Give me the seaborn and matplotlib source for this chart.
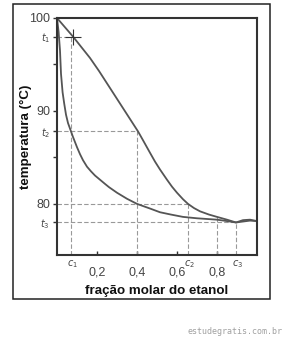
import matplotlib
matplotlib.use("Agg")
import matplotlib.pyplot as plt
import matplotlib.transforms as mtransforms
from matplotlib.patches import Rectangle
import seaborn as sns

# ethanol mole fraction vs boiling temperature (liquid / vapour curves)
liq_x = [0, 0.008, 0.015, 0.02, 0.028, 0.036, 0.045, 0.055, 0.07, 0.08, 0.09, 0.10, 0.115,
         0.13, 0.15, 0.17, 0.19, 0.215, 0.24, 0.26, 0.28, 0.30, 0.35, 0.40, 0.465, 0.515,
         0.57, 0.63, 0.70, 0.80, 0.85, 0.895, 0.93, 0.965, 1.0]
liq_y = [100, 98.5, 96.5, 94.0, 92.0, 90.8, 89.6, 88.7, 87.8, 87.2, 86.65, 86.1, 85.35,
         84.7, 84.0, 83.5, 83.05, 82.6, 82.15, 81.8, 81.5, 81.2, 80.55, 80.0, 79.5, 79.1,
         78.85, 78.6, 78.45, 78.3, 78.15, 78.0, 78.1, 78.2, 78.15]
vap_x = [0, 0.08, 0.165, 0.21, 0.30, 0.405, 0.43, 0.465, 0.49, 0.515, 0.55, 0.575, 0.60,
         0.63, 0.655, 0.685, 0.715, 0.76, 0.80, 0.85, 0.895, 0.93, 0.965, 1.0]
vap_y = [100, 98.0, 95.7, 94.3, 91.3, 87.8, 86.85, 85.5, 84.55, 83.7, 82.6, 81.85, 81.2,
         80.5, 80.0, 79.55, 79.2, 78.85, 78.6, 78.3, 78.0, 78.25, 78.3, 78.15]

t1, t2, t3 = 98.0, 87.8, 78.0
c1, c2, c3 = 0.07, 0.655, 0.895
cross_x = 0.08

h_levels = [t1, t2, 80, t3]
h_ends = [c1, 0.4, c2, c3]
v_pos = [c1, 0.4, c2, 0.8, c3]
v_tops = [t1, t2, 80, 78.6, t3]

y_ticks = [100, t1, 95, 90, t2, 85, 80, t3]
y_labels = ['100', '$t_1$', '', '90', '$t_2$', '', '80', '$t_3$']
x_ticks = [0.2, 0.4, 0.6, 0.8]
x_labels = ['0,2', '0,4', '0,6', '0,8']
c_pos = [c1, c2, c3]
c_labels = ['$c_1$', '$c_2$', '$c_3$']

sns.set_style("ticks")
plt.rcParams['font.family'] = ['Liberation Sans', 'DejaVu Sans']

fig = plt.figure(figsize=(2.84, 3.38), dpi=100)
ax = fig.add_axes([57/284, 83/338, 200/284, 237/338])

ymin = 74.5
guide = dict(color='#999999', lw=0.8, linestyle=(0, (4, 2)))
for lev, end in zip(h_levels, h_ends):
    ax.plot([0, end], [lev, lev], **guide)
for xp, top in zip(v_pos, v_tops):
    ax.plot([xp, xp], [ymin, top], **guide)

sns.lineplot(x=liq_x, y=liq_y, ax=ax, color='#555555', lw=1.3, sort=False)
sns.lineplot(x=vap_x, y=vap_y, ax=ax, color='#555555', lw=1.3, sort=False)
ax.plot([cross_x], [t1], marker='+', ms=11, mew=0.8, color='#333333')

ax.set_xlim(0, 1.0)
ax.set_ylim(ymin, 100)
ax.set_yticks(y_ticks)
ax.set_yticklabels(y_labels)
ax.set_xticks(x_ticks)
ax.set_xticklabels(x_labels)
ax.tick_params(axis='y', direction='out', length=3, width=1, pad=2,
               labelsize=9, colors='#333333', labelcolor='#444444')
ax.tick_params(axis='x', direction='in', length=3, width=1, pad=8,
               labelsize=9, colors='#333333', labelcolor='#444444')
for lab, txt in zip(ax.get_yticklabels(), y_labels):
    if txt.startswith('$'):
        lab.set_fontsize(7)

trans = mtransforms.blended_transform_factory(ax.transData, ax.transAxes)
for xp, lab in zip(c_pos, c_labels):
    ax.text(xp + 0.008, -0.04, lab, transform=trans, ha='center', va='center',
            fontsize=7, color='#444444')

for s in ax.spines.values():
    s.set_linewidth(1.5)
    s.set_color('#333333')

ax.set_xlabel('fração molar do etanol', fontsize=9.6, fontweight='bold', color='#111111')
ax.set_ylabel('temperatura (°C)', fontsize=9.6, fontweight='bold', color='#111111')
ax.xaxis.set_label_coords(0.5, -0.127)
ax.yaxis.set_label_coords(-0.125, 0.5)

fig.patches.append(Rectangle((13/284, 39/338), 257/284, 295/338, transform=fig.transFigure,
                             fill=False, lw=1.1, edgecolor='#222222'))
fig.text(235/284, 1 - 331/338, 'estudegratis.com.br', family='DejaVu Sans Mono',
         fontsize=6, color='#a0a0a0', ha='center', va='center')

fig.savefig('out.png', dpi=100)
